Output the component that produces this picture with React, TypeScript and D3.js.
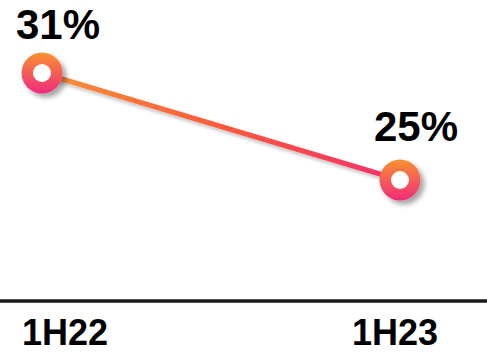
import React from "react";
import * as d3 from "d3";

const categories = ["1H22", "1H23"];
const values = [31, 25];
const valueLabels = ["31%", "25%"];

const W = 487;
const H = 353;

export default function App() {
  const x = d3.scalePoint<string>().domain(categories).range([42, 400]);
  const tickX = d3.scalePoint<string>().domain(categories).range([65, 395]);
  const y = d3.scaleLinear().domain([25, 31]).range([180, 73]);

  const data = categories.map((c, i) => ({ c, v: values[i], label: valueLabels[i] }));
  const line = d3
    .line<{ c: string; v: number }>()
    .x((d) => x(d.c) as number)
    .y((d) => y(d.v));

  const font = "'Liberation Sans', Arial, Helvetica, sans-serif";
  const axisY = 301;
  const valueSize = 42;
  // keep the value label's ascent inside the top edge
  const minBaseline = Math.ceil(valueSize * 0.91);

  return (
    <svg
      width={W}
      height={H}
      style={{ position: "absolute", left: 0, top: 0, display: "block" }}
    >
      <defs>
        <linearGradient id="lineGrad" gradientUnits="userSpaceOnUse" x1={x(categories[0])} y1={0} x2={x(categories[1])} y2={0}>
          <stop offset="0%" stopColor="#f8923a" />
          <stop offset="50%" stopColor="#fd5a3c" />
          <stop offset="100%" stopColor="#f4306c" />
        </linearGradient>
        <linearGradient id="dotGrad" x1="0" y1="0" x2="0" y2="1">
          <stop offset="0%" stopColor="#f8922f" />
          <stop offset="100%" stopColor="#f02a7c" />
        </linearGradient>
        <filter id="shadow" x="-50%" y="-50%" width="200%" height="200%">
          <feDropShadow dx="4" dy="4" stdDeviation="2.5" floodColor="#000" floodOpacity="0.35" />
        </filter>
        <filter id="lineShadow" x="-10%" y="-50%" width="120%" height="200%">
          <feDropShadow dx="1" dy="3" stdDeviation="1.5" floodColor="#000" floodOpacity="0.2" />
        </filter>
      </defs>

      <rect width={W} height={H} fill="#ffffff" />

      <path
        d={line(data) ?? ""}
        fill="none"
        stroke="url(#lineGrad)"
        strokeWidth={5}
        filter="url(#lineShadow)"
      />

      {data.map((d) => (
        <g key={d.c} filter="url(#shadow)">
          <circle cx={x(d.c)} cy={y(d.v)} r={20.5} fill="url(#dotGrad)" />
          <circle cx={x(d.c)} cy={y(d.v)} r={9} fill="#ffffff" />
        </g>
      ))}

      {data.map((d) => (
        <text
          key={"v" + d.c}
          x={(x(d.c) as number) + 16}
          y={Math.max(y(d.v) - 39, minBaseline)}
          textAnchor="middle"
          fontFamily={font}
          fontWeight="bold"
          fontSize={valueSize}
          fill="#000"
        >
          {d.label}
        </text>
      ))}

      <line x1={0} x2={W} y1={axisY} y2={axisY} stroke="#1a1a1a" strokeWidth={3.5} />

      {categories.map((c) => (
        <text
          key={"t" + c}
          x={tickX(c)}
          y={345}
          textAnchor="middle"
          fontFamily={font}
          fontWeight="bold"
          fontSize={36}
          fill="#000"
        >
          {c}
        </text>
      ))}
    </svg>
  );
}
